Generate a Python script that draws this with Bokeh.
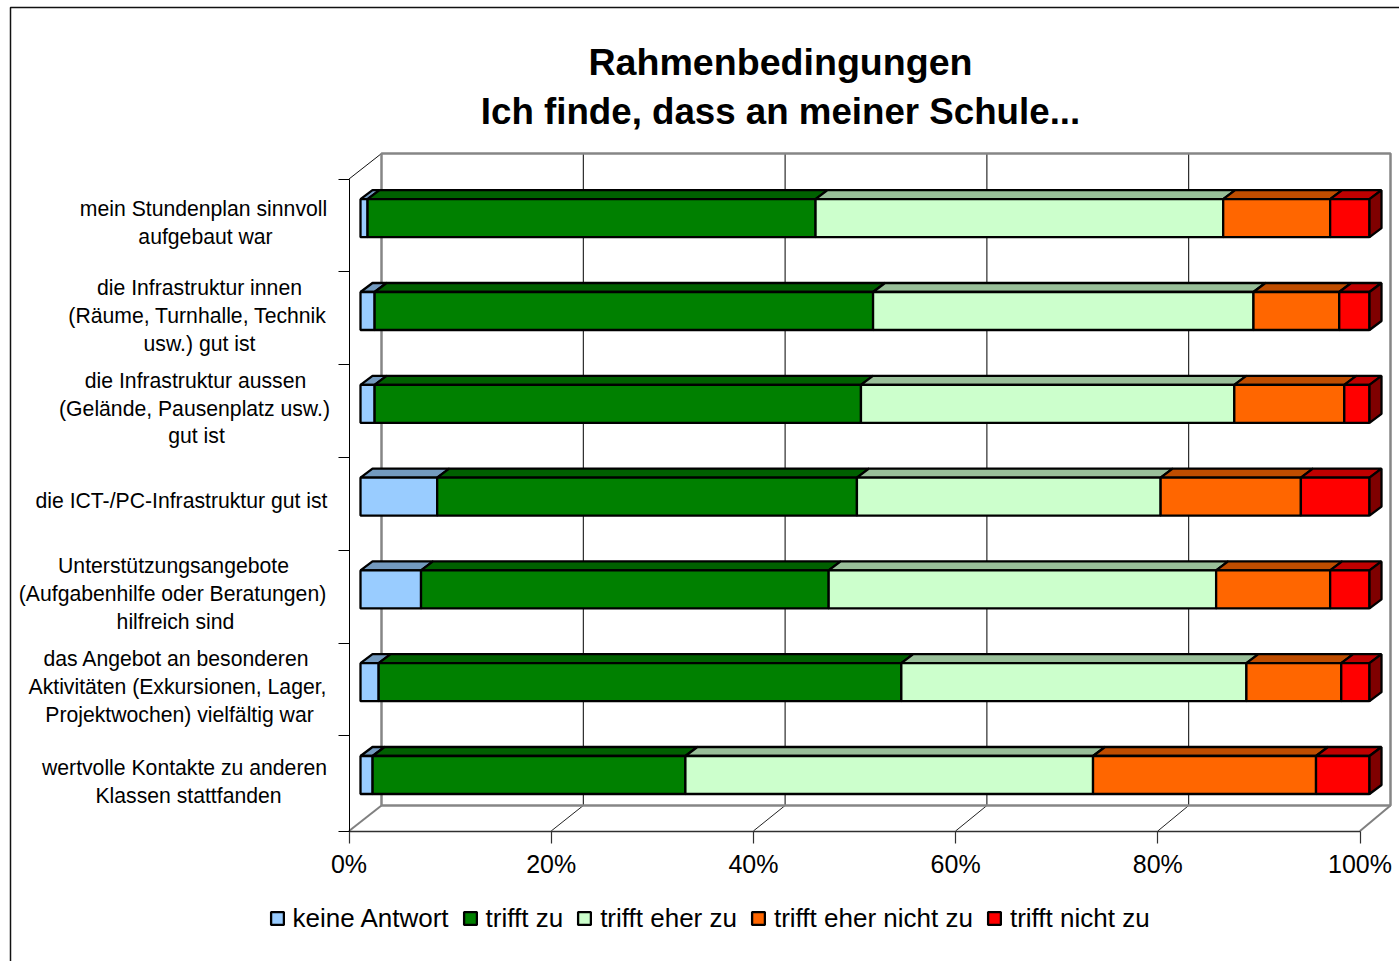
from bokeh.plotting import figure
from bokeh.embed import file_html
from bokeh.resources import INLINE
from bokeh.models import (Range1d, FixedTicker, Label, BoxAnnotation, Legend, LegendItem,
                          PrintfTickFormatter)
from bokeh.core.properties import value

FONT = "Liberation Sans"

# ---- data (top row first) ----
series = ["keine Antwort", "trifft zu", "trifft eher zu", "trifft eher nicht zu", "trifft nicht zu"]
keine_antwort = [0.7, 1.4, 1.4, 7.6, 6.0, 1.8, 1.2]
trifft_zu = [44.4, 49.4, 48.2, 41.6, 40.4, 51.8, 31.0]
trifft_eher_zu = [40.4, 37.7, 37.0, 30.1, 38.4, 34.2, 40.4]
trifft_eher_nicht_zu = [10.6, 8.5, 10.9, 13.9, 11.3, 9.4, 22.1]
trifft_nicht_zu = [3.9, 3.0, 2.5, 6.8, 3.9, 2.8, 5.3]
values = [keine_antwort, trifft_zu, trifft_eher_zu, trifft_eher_nicht_zu, trifft_nicht_zu]

front_colors = ["#99CCFF", "#008000", "#CCFFCC", "#FF6600", "#FF0000"]
top_colors = ["#739ABF", "#006000", "#99BF99", "#BF4D00", "#BF0000"]
side_color = "#7F0000"

categories = [
    ["mein Stundenplan sinnvoll", "aufgebaut war"],
    ["die Infrastruktur innen", "(Räume, Turnhalle, Technik", "usw.) gut ist"],
    ["die Infrastruktur aussen", "(Gelände, Pausenplatz usw.)", "gut ist"],
    ["die ICT-/PC-Infrastruktur gut ist"],
    ["Unterstützungsangebote", "(Aufgabenhilfe oder Beratungen)", "hilfreich sind"],
    ["das Angebot an besonderen", "Aktivitäten (Exkursionen, Lager,", "Projektwochen) vielfältig war"],
    ["wertvolle Kontakte zu anderen", "Klassen stattfanden"],
]
cat_center_x = [[203, 205], [199, 197, 199], [195, 194, 196], [181], [173, 172, 175], [176, 177, 179], [184, 188]]
cat_center_y = [[208, 236], [287, 315, 343], [380, 408, 435], [500], [565, 593, 621], [658, 686, 714], [767, 795]]
ticks = [0, 20, 40, 60, 80, 100]

# ---- layout constants (page px; the page shows the figure from its corner) ----
W, H = 1399, 961
F_L, F_B = 348.5, 830.5   # where 0% / bottom band edge sit
SX = 10.11    # px per percent
SY = 92.8     # px per category band
FIRST_BAND = 95.2 / SY   # the bottom band is slightly taller in the picture

p = figure(width=W, height=H, output_backend="svg", toolbar_location=None,
           x_range=Range1d(-F_L / SX, (W - F_L) / SX), y_range=Range1d(-(H - F_B) / SY, F_B / SY),
           min_border_left=0, min_border_right=0, min_border_top=0, min_border_bottom=0)
p.outline_line_color = None
p.grid.visible = False

band_edges = [0] + [FIRST_BAND + k for k in range(7)]
top_edge = band_edges[-1]


def wall_x(v):
    return (32.5 + v * 10.09) / SX


WALL_DY = 25.5 / SY


def bar_x(v):
    return (11.5 + v * 10.09) / SX


# back wall, floor, gridlines
inner = ticks[1:-1]
wall_top = top_edge + WALL_DY
p.segment(x0=[wall_x(v) for v in inner], y0=[WALL_DY] * len(inner),
          x1=[wall_x(v) for v in inner], y1=[wall_top] * len(inner),
          line_color="#000000", line_width=1)
p.segment(x0=inner, y0=[0] * len(inner), x1=[wall_x(v) for v in inner], y1=[WALL_DY] * len(inner),
          line_color="#222222", line_width=1)
p.segment(x0=[0], y0=[top_edge], x1=[wall_x(0)], y1=[wall_top], line_color="#111111", line_width=1)
p.segment(x0=[0, 100], y0=[0, 0], x1=[wall_x(0), wall_x(100)], y1=[WALL_DY, WALL_DY],
          line_color="#808080", line_width=2)
p.quad(left=[wall_x(0)], right=[wall_x(100)], bottom=[WALL_DY], top=[wall_top],
       fill_color=None, line_color="#868686", line_width=2.5)

# bars
BAR_H = 38 / SY
D_X = 12 / SX
D_Y = 9 / SY
BAR_LW = 2.3

n = len(categories)
centers = [(56 + 92.8 * (n - 1 - i)) / SY for i in range(n)]
cum = [0.0] * n
legend_items = []
for s, vals in enumerate(values):
    lefts = [bar_x(c) for c in cum]
    cum = [c + v for c, v in zip(cum, vals)]
    rights = [bar_x(c) for c in cum]
    xs = [[l, r, r + D_X, l + D_X] for l, r in zip(lefts, rights)]
    ys = [[c + BAR_H / 2, c + BAR_H / 2, c + BAR_H / 2 + D_Y, c + BAR_H / 2 + D_Y] for c in centers]
    p.patches(xs, ys, fill_color=top_colors[s], line_color="#000000", line_width=BAR_LW)
    r = p.quad(left=lefts, right=rights, bottom=[c - BAR_H / 2 for c in centers],
               top=[c + BAR_H / 2 for c in centers],
               fill_color=front_colors[s], line_color="#000000", line_width=BAR_LW)
    legend_items.append(LegendItem(label=value(series[s]), renderers=[r]))
    if s == len(values) - 1:
        xs = [[e, e + D_X, e + D_X, e] for e in rights]
        ys = [[c - BAR_H / 2, c - BAR_H / 2 + D_Y, c + BAR_H / 2 + D_Y, c + BAR_H / 2] for c in centers]
        p.patches(xs, ys, fill_color=side_color, line_color="#000000", line_width=BAR_LW)

# axes, fixed inside the full-canvas frame
xa = p.xaxis[0]
xa.fixed_location = 0
xa.ticker = FixedTicker(ticks=ticks)
xa.formatter = PrintfTickFormatter(format="%d%%")
xa.bounds = (0, 100)
xa.axis_line_color = "#303030"
xa.axis_line_width = 1.5
xa.major_tick_line_color = "#303030"
xa.major_tick_line_width = 1.2
xa.major_tick_in = 0
xa.major_tick_out = 12
xa.minor_tick_line_color = None
xa.major_label_standoff = 7
xa.major_label_text_font = FONT
xa.major_label_text_font_size = "25px"
xa.major_label_text_color = "#000000"

ya = p.yaxis[0]
ya.fixed_location = 0
ya.ticker = FixedTicker(ticks=band_edges)
ya.major_label_overrides = {e: "" for e in band_edges}
ya.bounds = (0, top_edge)
ya.axis_line_color = "#000000"
ya.axis_line_width = 1
ya.major_tick_line_color = "#000000"
ya.major_tick_in = 0
ya.major_tick_out = 11
ya.minor_tick_line_color = None

# outer chart border
p.add_layout(BoxAnnotation(left=10, right=W + 20, top=7, bottom=H + 20,
                           left_units="canvas", right_units="canvas", top_units="canvas", bottom_units="canvas",
                           fill_alpha=0, fill_color=None, line_color="#111111", line_alpha=1, line_width=1.5))

# title
for txt, y, size in [("Rahmenbedingungen", 61, "37.6px"), ("Ich finde, dass an meiner Schule...", 111, "36.7px")]:
    p.add_layout(Label(x=780, y=y, x_units="canvas", y_units="canvas", text=txt,
                       text_font=FONT, text_font_size=size, text_font_style="bold",
                       text_align="center", text_baseline="middle", text_color="#000000"))

# category labels
for lines, cxs, cys in zip(categories, cat_center_x, cat_center_y):
    for t, cx, cy in zip(lines, cxs, cys):
        p.add_layout(Label(x=cx, y=cy, x_units="canvas", y_units="canvas", text=t,
                           text_font=FONT, text_font_size="21.2px", text_align="center",
                           text_baseline="middle", text_color="#000000"))

# legend
legend = Legend(items=legend_items, orientation="horizontal", location=(268.5, H - 933.5),
                border_line_color=None, background_fill_alpha=0, margin=0, padding=0,
                spacing=13, label_standoff=8, glyph_width=16, glyph_height=16,
                label_text_font=FONT, label_text_font_size="26px", label_text_color="#000000",
                label_height=16, click_policy="none")
p.add_layout(legend, "center")

open("out.html", "w").write(file_html(p, INLINE))
